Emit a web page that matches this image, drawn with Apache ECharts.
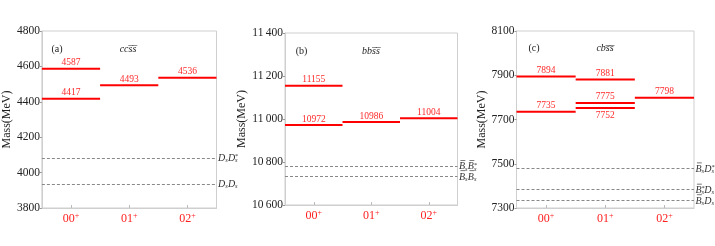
<!DOCTYPE html>
<html><head><meta charset="utf-8">
<script src="https://cdn.jsdelivr.net/npm/echarts@6/dist/echarts.min.js"></script>
<style>html,body{margin:0;padding:0;background:#fff}#c{width:715px;height:246px}</style>
</head><body><div id="c"></div>
<script>
// ---- data ----
const categories = ['00+', '01+', '02+'];
// panel (a) ccss̄s̄
const ccss00 = [4587, 4417];
const ccss01 = [4493];
const ccss02 = [4536];
const ccssThresholds = [4080, 3936];
const ccssThresholdNames = ['DsDs*', 'DsDs'];
const ccssTicks = [3800, 4800, 200];
// panel (b) bbs̄s̄
const bbss00 = [11155, 10972];
const bbss01 = [10986];
const bbss02 = [11004];
const bbssThresholds = [10782, 10734];
const bbssThresholdNames = ['BsBs*', 'BsBs'];
const bbssTicks = [10600, 11400, 200];
// panel (c) cbs̄s̄
const cbss00 = [7894, 7735];
const cbss01 = [7881, 7775, 7752];
const cbss02 = [7798];
const cbssThresholds = [7479, 7383, 7335];
const cbssThresholdNames = ['BsDs*', 'Bs*Ds', 'BsDs'];
const cbssTicks = [7300, 8100, 200];

// ---- styling ----
const SERIF = '"Liberation Serif", "DejaVu Serif", "Times New Roman", serif';
const OV = '\u0305';
const TH_COLOR = '#333';
const richTh = {
  B: {fontFamily: SERIF, fontStyle: 'italic', fontSize: 10, color: TH_COLOR, lineHeight: 11, width: 6.1},
  D: {fontFamily: SERIF, fontStyle: 'italic', fontSize: 10, color: TH_COLOR, lineHeight: 11, width: 7.2},
  s: {fontFamily: SERIF, fontStyle: 'italic', fontSize: 6.5, color: TH_COLOR, lineHeight: 11, verticalAlign: 'bottom', width: 2.7},
  p: {fontFamily: SERIF, fontSize: 6.5, color: TH_COLOR, lineHeight: 11, verticalAlign: 'top', width: 0.01},
  ov: {width: 4.9, height: 0.8, lineHeight: 2, backgroundColor: '#555', color: 'rgba(0,0,0,0)', fontSize: 1},
  gk: {width: 1.4, height: 0.8, lineHeight: 2, color: 'rgba(0,0,0,0)', fontSize: 1},
  gD: {width: 7.2, height: 0.8, lineHeight: 2, color: 'rgba(0,0,0,0)', fontSize: 1},
  gs: {width: 2.7, height: 0.8, lineHeight: 2, color: 'rgba(0,0,0,0)', fontSize: 1}
};

// Turn a name such as 'Bs*Ds' into a rich label: B gets an overline, s is a subscript, * a superscript
function thresholdLabel(name) {
  const main = [], over = [];
  let hasBar = false;
  for (let k = 0; k < name.length; k++) {
    const ch = name[k];
    if (ch === 'B') { main.push('{B|B}'); over.push('{gk| }{ov| }'); hasBar = true; }
    else if (ch === 'D') { main.push('{D|D}'); over.push('{gD| }'); }
    else if (ch === 's') {
      if (name[k + 1] === '*') { main.push('{p|*}'); k++; }
      main.push('{s|s}'); over.push('{gs| }');
    }
  }
  return hasBar ? over.join('') + '\n' + main.join('') : main.join('');
}

const grids = [
  {left: 39.5, right: 498.5, top: 31, bottom: 38},
  {left: 285, right: 257.5, top: 33, bottom: 41},
  {left: 516.5, right: 21, top: 31, bottom: 38}
];
const nameGaps = [26, 33, 27];

function levelData(l0, l1, l2) {
  const out = [];
  [l0, l1, l2].forEach((arr, ci) => arr.forEach(v => {
    const below = arr.some(o => o > v && o - v < 40);
    out.push([ci, v, below ? 1 : 0]);
  }));
  return out;
}

const panels = [
  {levels: levelData(ccss00, ccss01, ccss02), th: ccssThresholds, thn: ccssThresholdNames, ticks: ccssTicks},
  {levels: levelData(bbss00, bbss01, bbss02), th: bbssThresholds, thn: bbssThresholdNames, ticks: bbssTicks},
  {levels: levelData(cbss00, cbss01, cbss02), th: cbssThresholds, thn: cbssThresholdNames, ticks: cbssTicks}
];

function fmtY(v) {
  const s = String(v);
  return s.length > 4 ? s.slice(0, s.length - 3) + '\u2009' + s.slice(-3) : s;
}

const option = {
  animation: false,
  grid: grids.map(g => Object.assign({show: true, borderColor: '#cfcfcf', borderWidth: 1, containLabel: false}, g)),
  xAxis: panels.map((p, i) => ({
    type: 'category', gridIndex: i, data: categories, boundaryGap: true,
    axisLine: {show: true, lineStyle: {color: '#cfcfcf'}},
    axisTick: {show: true, inside: true, alignWithLabel: true, length: 3, lineStyle: {color: '#bbb'}},
    axisLabel: {
      interval: 0, margin: 4, color: '#ff2020', fontFamily: SERIF, fontSize: 12,
      formatter: v => '{n|' + v.slice(0, -1) + '}{p|' + v.slice(-1) + '}',
      rich: {
        n: {fontFamily: SERIF, fontSize: 12, color: '#ff2020', lineHeight: 14},
        p: {fontFamily: SERIF, fontSize: 8, color: '#ff2020', verticalAlign: 'top', lineHeight: 14}
      }
    },
    splitLine: {show: false}
  })),
  yAxis: panels.map((p, i) => ({
    type: 'value', gridIndex: i, min: p.ticks[0], max: p.ticks[1], interval: p.ticks[2],
    name: 'Mass(MeV)', nameLocation: 'middle', nameGap: nameGaps[i],
    nameTextStyle: {fontFamily: SERIF, fontSize: 12, color: '#222'},
    axisLine: {show: true, lineStyle: {color: '#cfcfcf'}},
    axisTick: {show: true, inside: false, length: 2, lineStyle: {color: '#999'}},
    axisLabel: {margin: 2, color: '#222', fontFamily: SERIF, fontSize: 11.5, formatter: fmtY},
    splitLine: {show: false}
  })),
  series: []
};

panels.forEach((p, i) => {
  option.series.push({
    type: 'custom', xAxisIndex: i, yAxisIndex: i, data: p.levels,
    renderItem: (params, api) => {
      const c = api.coord([api.value(0), api.value(1)]);
      const w = api.size([1, 0])[0];
      const below = api.value(2) === 1;
      return {
        type: 'group', children: [
          {type: 'line', shape: {x1: c[0] - w / 2, y1: c[1], x2: c[0] + w / 2, y2: c[1]},
           style: {stroke: '#ff0000', lineWidth: 2}},
          {type: 'text', x: c[0], y: c[1] + (below ? 8 : -6),
           style: {text: String(api.value(1)), align: 'center', verticalAlign: 'middle',
                   fill: '#ff2a2a', font: '9.5px ' + SERIF}}
        ]
      };
    }
  });
  option.series.push({
    type: 'line', xAxisIndex: i, yAxisIndex: i, data: [], silent: true,
    markLine: {
      silent: true, symbol: ['none', 'none'], animation: false,
      lineStyle: {type: [3, 2], color: '#888', width: 1},
      label: {show: true, position: 'end', distance: 1.5, rich: richTh, align: 'left',
              formatter: prm => thresholdLabel(prm.name)},
      data: p.th.map((v, k) => ({yAxis: v, name: p.thn[k]}))
    }
  });
});

option.graphic = [
  {type: 'text', x: 57, y: 49, style: {text: '(a)', font: '10px ' + SERIF, fill: '#222', align: 'center', verticalAlign: 'middle'}},
  {type: 'text', x: 128, y: 49, style: {text: 'ccs' + OV + 's' + OV, font: 'italic 10px ' + SERIF, fill: '#222', align: 'center', verticalAlign: 'middle'}},
  {type: 'text', x: 301.5, y: 51, style: {text: '(b)', font: '10px ' + SERIF, fill: '#222', align: 'center', verticalAlign: 'middle'}},
  {type: 'text', x: 371, y: 51, style: {text: 'bbs' + OV + 's' + OV, font: 'italic 10px ' + SERIF, fill: '#222', align: 'center', verticalAlign: 'middle'}},
  {type: 'text', x: 534, y: 48.5, style: {text: '(c)', font: '10px ' + SERIF, fill: '#222', align: 'center', verticalAlign: 'middle'}},
  {type: 'text', x: 605, y: 48.5, style: {text: 'cbs' + OV + 's' + OV, font: 'italic 10px ' + SERIF, fill: '#222', align: 'center', verticalAlign: 'middle'}}
];

const chart = echarts.init(document.getElementById('c'), null, {renderer: 'canvas'});
chart.setOption(option);
</script></body></html>
